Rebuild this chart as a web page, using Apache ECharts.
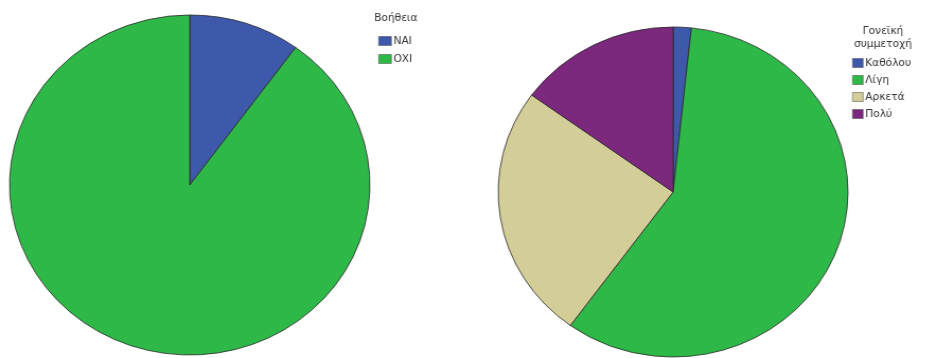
<!DOCTYPE html>
<html>
<head>
<meta charset="utf-8">
<script src="https://cdn.jsdelivr.net/npm/echarts@6/dist/echarts.min.js"></script>
<style>
  html, body { margin: 0; padding: 0; background: #fff; overflow: hidden; }
  /* the drawing is a little wider than tall, so the chart is stretched horizontally */
  #chart { width: 874px; height: 358px; transform: scaleX(1.06); transform-origin: 0 0; }
</style>
</head>
<body>
<div id="chart"></div>
<script>
// Βοήθεια (counts)
const helpCategories = ['ΝΑΙ', 'ΟΧΙ'];
const helpValues = [6, 54];

// Γονεϊκή συμμετοχή (counts)
const involvementCategories = ['Καθόλου', 'Λίγη', 'Αρκετά', 'Πολύ'];
const involvementValues = [1, 35, 15, 9];

const helpColors = ['#3e58ac', '#2eb848'];
const involvementColors = ['#3e58ac', '#2eb848', '#d3ce97', '#7c287d'];

const font = '"DejaVu Sans", Verdana, sans-serif';

const chart = echarts.init(document.getElementById('chart'), null, { renderer: 'canvas' });

function pieData(names, values, colors) {
  return names.map((n, i) => ({ name: n, value: values[i], itemStyle: { color: colors[i] } }));
}

const legendText = { fontFamily: font, fontSize: 10, color: '#333', lineHeight: 12, padding: [0, 0, 0, -3] };

chart.setOption({
  animation: false,
  backgroundColor: '#fff',
  graphic: [
    { type: 'text', x: 353, y: 13,
      style: { text: 'Βοήθεια', font: '10px ' + font, fill: '#333', verticalAlign: 'top' } },
    { type: 'text', x: 833, y: 25,
      style: { text: 'Γονεϊκή\nσυμμετοχή', font: '10px ' + font, fill: '#333',
               align: 'center', verticalAlign: 'top', lineHeight: 13 } }
  ],
  legend: [
    {
      orient: 'vertical', left: 357, top: 35, padding: 0,
      itemWidth: 12, itemHeight: 9, itemGap: 6,
      icon: 'rect',
      data: helpCategories,
      textStyle: legendText,
      itemStyle: { borderColor: '#444', borderWidth: 0.5 }
    },
    {
      orient: 'vertical', left: 804, top: 57, padding: 0,
      itemWidth: 10, itemHeight: 9, itemGap: 5,
      icon: 'rect',
      data: involvementCategories.map(n => ({ name: n })),
      textStyle: legendText,
      itemStyle: { borderColor: '#444', borderWidth: 0.5 }
    }
  ],
  series: [
    {
      type: 'pie',
      center: [179, 185],
      radius: 170,
      startAngle: 90,
      clockwise: true,
      label: { show: false },
      labelLine: { show: false },
      emphasis: { disabled: true },
      itemStyle: { borderColor: '#2a2a2a', borderWidth: 0.8 },
      data: pieData(helpCategories, helpValues, helpColors)
    },
    {
      type: 'pie',
      center: [635, 192],
      radius: 165,
      startAngle: 90,
      clockwise: true,
      label: { show: false },
      labelLine: { show: false },
      emphasis: { disabled: true },
      itemStyle: { borderColor: '#2a2a2a', borderWidth: 0.8 },
      data: pieData(involvementCategories, involvementValues, involvementColors)
    }
  ]
});
</script>
</body>
</html>
